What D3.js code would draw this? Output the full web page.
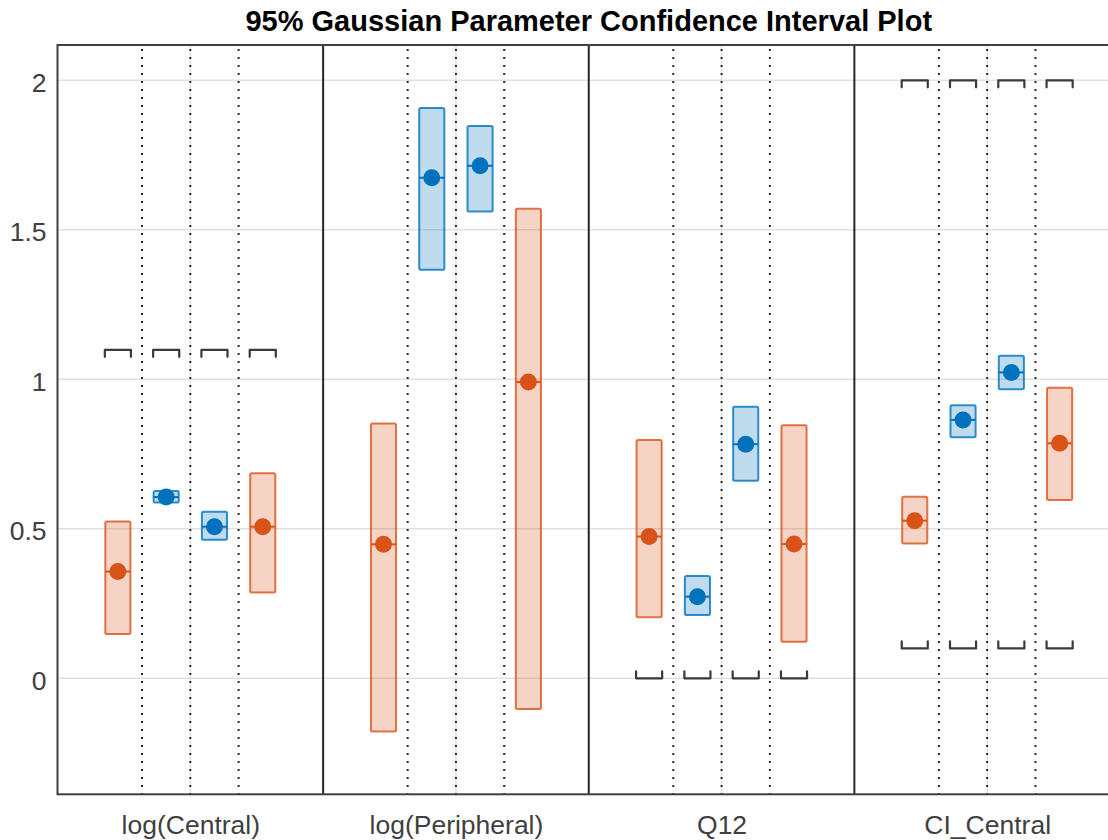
<!DOCTYPE html>
<html>
<head>
<meta charset="utf-8">
<script src="https://cdn.jsdelivr.net/npm/d3@7"></script>
<style>
  html, body { margin: 0; padding: 0; background: #ffffff; }
  svg { display: block; font-family: "Liberation Sans", Arial, Helvetica, sans-serif; }
</style>
</head>
<body>
<svg id="chart" width="1108" height="840"></svg>
<script>
// Parameters shown along the x axis, one group each
const categories = ["log(Central)", "log(Peripheral)", "Q12", "CI_Central"];

// Four intervals per parameter; status decides the colour
const slotStatus = ["constrained", "success", "success", "constrained"];

// Point estimates and 95% interval limits, one row per parameter
const estimates = [
  [0.357, 0.606, 0.507, 0.507],
  [0.448, 1.674, 1.714, 0.991],
  [0.474, 0.273, 0.783, 0.449],
  [0.527, 0.864, 1.023, 0.786]
];
const lowerCI = [
  [0.148, 0.588, 0.463, 0.287],
  [-0.178, 1.366, 1.561, -0.103],
  [0.204, 0.212, 0.661, 0.122],
  [0.451, 0.806, 0.967, 0.596]
];
const upperCI = [
  [0.524, 0.626, 0.557, 0.686],
  [0.852, 1.907, 1.847, 1.570],
  [0.797, 0.342, 0.908, 0.846],
  [0.607, 0.913, 1.079, 0.972]
];

// Parameter bounds (null where a parameter has none)
const lowerBounds = [null, null, 0, 0.1];
const upperBounds = [Math.log(3), null, null, 2];

const yTicks = [0, 0.5, 1, 1.5, 2];
const titleText = "95% Gaussian Parameter Confidence Interval Plot";

const colors = {
  constrained: "#D95319",
  success: "#0072BD"
};

const svg = d3.select("#chart");

const plot = { left: 57.5, right: 1120, top: 45, bottom: 794.3 };
const groupWidth = 5.5;   // in x units: margin + 4 slots + margin
const slotOffset = 1.25;  // centre of first slot inside a group

const x = d3.scaleLinear().domain([0, groupWidth * categories.length]).range([plot.left, plot.right]);
const y = d3.scaleLinear().domain([-0.388, 2.118]).range([plot.bottom, plot.top]);

const slotX = (g, s) => x(g * groupWidth + slotOffset + s);
const boxHalf = (x(0.52) - x(0)) / 2;
const bracketHalf = (x(0.54) - x(0)) / 2;

// Grid
const grid = svg.append("g");
grid.selectAll("line.hgrid").data(yTicks).join("line")
  .attr("x1", plot.left).attr("x2", plot.right)
  .attr("y1", d => y(d)).attr("y2", d => y(d))
  .attr("stroke", "#e1e1e1").attr("stroke-width", 1.5);
grid.selectAll("line.vgrid").data(categories).join("line")
  .attr("x1", (d, i) => x(i * groupWidth + groupWidth / 2))
  .attr("x2", (d, i) => x(i * groupWidth + groupWidth / 2))
  .attr("y1", plot.top).attr("y2", plot.bottom)
  .attr("stroke", "#e1e1e1").attr("stroke-width", 1.5);

// Dotted lines between the intervals of a group
const dividers = [];
categories.forEach((c, g) => {
  [1.75, 2.75, 3.75].forEach(o => dividers.push(g * groupWidth + o));
});
svg.append("g").selectAll("line").data(dividers).join("line")
  .attr("x1", d => x(d)).attr("x2", d => x(d))
  .attr("y1", plot.top + 4).attr("y2", plot.bottom)
  .attr("stroke", "#2a2a2a").attr("stroke-width", 2)
  .attr("stroke-dasharray", "2 6");

// Solid separators between parameter groups
svg.append("g").selectAll("line").data(d3.range(1, categories.length)).join("line")
  .attr("x1", d => x(d * groupWidth)).attr("x2", d => x(d * groupWidth))
  .attr("y1", plot.top).attr("y2", plot.bottom)
  .attr("stroke", "#262626").attr("stroke-width", 2);

// Bound brackets
const brackets = [];
categories.forEach((c, g) => {
  for (let s = 0; s < 4; s++) {
    if (upperBounds[g] !== null) brackets.push({ g, s, v: upperBounds[g], dir: 1 });
    if (lowerBounds[g] !== null) brackets.push({ g, s, v: lowerBounds[g], dir: -1 });
  }
});
svg.append("g").selectAll("path").data(brackets).join("path")
  .attr("d", d => {
    const cx = slotX(d.g, d.s), yy = y(d.v), h = 7 * d.dir;
    return `M${cx - bracketHalf},${yy + h}L${cx - bracketHalf},${yy}L${cx + bracketHalf},${yy}L${cx + bracketHalf},${yy + h}`;
  })
  .attr("fill", "none").attr("stroke", "#3a3a3a").attr("stroke-width", 2.2)
  .attr("stroke-linejoin", "round").attr("stroke-linecap", "round");

// Intervals
const intervals = [];
categories.forEach((c, g) => {
  for (let s = 0; s < 4; s++) {
    intervals.push({ g, s, est: estimates[g][s], lo: lowerCI[g][s], hi: upperCI[g][s], color: colors[slotStatus[s]] });
  }
});
const iv = svg.append("g").selectAll("g").data(intervals).join("g");
iv.append("rect")
  .attr("x", d => slotX(d.g, d.s) - boxHalf)
  .attr("width", boxHalf * 2)
  .attr("y", d => y(d.hi))
  .attr("height", d => y(d.lo) - y(d.hi))
  .attr("rx", 1.5)
  .attr("fill", d => d.color).attr("fill-opacity", 0.25)
  .attr("stroke", d => d.color).attr("stroke-opacity", 0.8).attr("stroke-width", 2);
iv.append("line")
  .attr("x1", d => slotX(d.g, d.s) - boxHalf).attr("x2", d => slotX(d.g, d.s) + boxHalf)
  .attr("y1", d => y(d.est)).attr("y2", d => y(d.est))
  .attr("stroke", d => d.color).attr("stroke-width", 2);
iv.append("circle")
  .attr("cx", d => slotX(d.g, d.s)).attr("cy", d => y(d.est)).attr("r", 8.5)
  .attr("fill", d => d.color);

// Axes box
svg.append("rect")
  .attr("x", plot.left).attr("y", plot.top)
  .attr("width", plot.right - plot.left).attr("height", plot.bottom - plot.top)
  .attr("fill", "none").attr("stroke", "#404040").attr("stroke-width", 2);

// Y axis labels
const yAxis = svg.append("g")
  .attr("transform", `translate(${plot.left},0)`)
  .call(d3.axisLeft(y).tickValues(yTicks).tickSize(0).tickPadding(11).tickFormat(d3.format("~g")));
yAxis.select(".domain").remove();
yAxis.selectAll("text")
  .attr("font-size", 26.5).attr("font-family", "Liberation Sans, Arial, sans-serif")
  .attr("fill", "#404040").attr("dy", "0.42em");

// X axis labels
const xAxis = svg.append("g")
  .attr("transform", `translate(0,${plot.bottom})`)
  .call(d3.axisBottom(x)
    .tickValues(categories.map((c, i) => i * groupWidth + groupWidth / 2))
    .tickSize(0).tickPadding(21)
    .tickFormat((d, i) => categories[i]));
xAxis.select(".domain").remove();
xAxis.selectAll("text")
  .attr("font-size", 26.5).attr("font-family", "Liberation Sans, Arial, sans-serif")
  .attr("fill", "#404040");

// Title
svg.append("text")
  .attr("x", (plot.left + plot.right) / 2).attr("y", 31)
  .attr("text-anchor", "middle")
  .attr("font-size", 29).attr("font-weight", "bold").attr("fill", "#000")
  .text(titleText);
</script>
</body>
</html>
